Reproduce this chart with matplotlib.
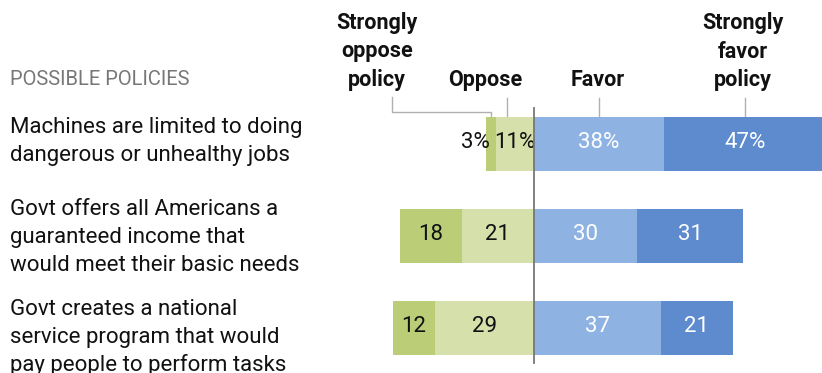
import matplotlib
matplotlib.use("Agg")
import matplotlib.pyplot as plt
import numpy as np

# Survey results: share who oppose / favor each policy
policies = [
    "Machines are limited to doing\ndangerous or unhealthy jobs",
    "Govt offers all Americans a\nguaranteed income that\nwould meet their basic needs",
    "Govt creates a national\nservice program that would\npay people to perform tasks",
]
strongly_oppose = [3, 18, 12]
oppose = [11, 21, 29]
favor = [38, 30, 37]
strongly_favor = [47, 31, 21]
pct_rows = [True, False, False]

headers = ["Strongly\noppose\npolicy", "Oppose", "Favor", "Strongly\nfavor\npolicy"]
section_title = "POSSIBLE POLICIES"

colors = ["#bccd78", "#d6e0aa", "#8eb2e1", "#5d8bce"]
text_colors = ["#111111", "#111111", "#ffffff", "#ffffff"]

W, H = 822, 373
fig = plt.figure(figsize=(W / 100, H / 100), dpi=100)
ax = fig.add_axes([0, 0, 1, 1])

zero_px = 534
px_per_unit = 3.43
ax.set_xlim(-zero_px / px_per_unit, (W - zero_px) / px_per_unit)
row0_px, row_gap = 144, 92
ax.set_ylim((H - row0_px) / row_gap, -row0_px / row_gap)
ax.axis("off")

FONT = "Roboto"
bar_h = 54 / row_gap
y = np.arange(len(policies))

so = np.array(strongly_oppose)
op = np.array(oppose)
fa = np.array(favor)
sf = np.array(strongly_favor)

segments = [
    (-(so + op), so),
    (-op, op),
    (np.zeros_like(fa), fa),
    (fa, sf),
]
for k, (left, width) in enumerate(segments):
    ax.barh(y, width, left=left, height=bar_h, color=colors[k], edgecolor="none", zorder=2)
    for i in range(len(y)):
        v = width[i]
        lab = f"{v}%" if pct_rows[i] else f"{v}"
        cx = left[i] + v / 2
        ha = "center"
        if v < 5:
            cx = left[i] + 1.0
            ha = "right"
        ax.text(cx, y[i] - 0.02, lab, ha=ha, va="center", fontsize=16,
                color=text_colors[k] if v >= 5 else "#111111",
                family=FONT, zorder=3)


def py(p):
    return (p - row0_px) / row_gap


def fx(p):
    return p / W


def fy(p):
    return 1 - p / H


# zero line
ax.plot([0, 0], [py(108), py(363)], color="#777777", lw=1.3, zorder=4)

# column headers, one line at a time from the bottom up
header_x = [377, 485, 598, 743]
for hx, txt in zip(header_x, headers):
    lines = txt.split("\n")
    for j, line in enumerate(reversed(lines)):
        fig.text(fx(hx), fy(86 - 28.5 * j), line, ha="center", va="baseline",
                 fontsize=15.5, fontweight="bold", family=FONT, color="#111111")

# leader lines from headers to the first bar
lc = "#b0b0b0"
top = py(117)
xu = lambda p: (p - zero_px) / px_per_unit
c0 = -(so[0] + op[0]) + so[0] / 2
c1 = -op[0] / 2 - 2.5
c2 = fa[0] / 2
c3 = fa[0] + sf[0] / 2
ax.plot([xu(392), xu(392), c0, c0], [py(97), py(112), py(112), top], color=lc, lw=1, zorder=1)
for cx in (c1, c2, c3):
    ax.plot([cx, cx], [py(98), top], color=lc, lw=1, zorder=1)

# section title and category labels
fig.text(fx(10), fy(85), section_title, ha="left", va="baseline", fontsize=14.5,
         color="#777777", family=FONT)
first_baseline = [133, 215, 315]
for b, lab in zip(first_baseline, policies):
    for j, line in enumerate(lab.split("\n")):
        fig.text(fx(10), fy(b + 28 * j), line, ha="left", va="baseline",
                 fontsize=16, color="#111111", family=FONT)

fig.savefig("out.png", dpi=100)
